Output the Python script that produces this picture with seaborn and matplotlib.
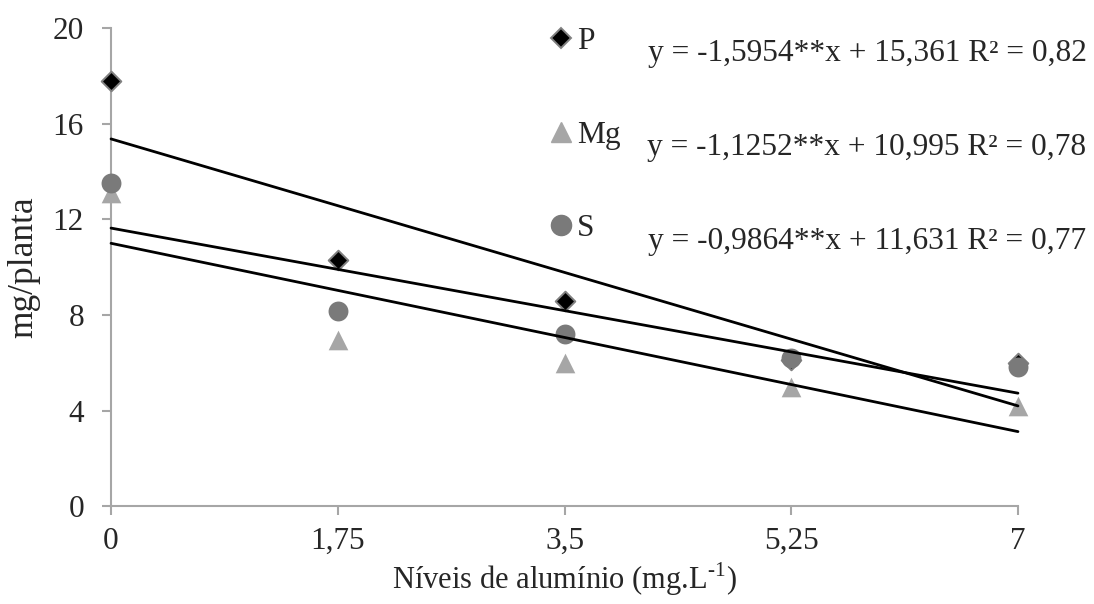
import numpy as np
import pandas as pd
import matplotlib
matplotlib.use("Agg")
import matplotlib.pyplot as plt
import seaborn as sns
from matplotlib.lines import Line2D

# ---- data ----
levels = [0, 1.75, 3.5, 5.25, 7]
tick_labels = ["0", "1,75", "3,5", "5,25", "7"]
p_vals = [17.8, 10.3, 8.6, 6.1, 6.0]
mg_vals = [13.1, 6.95, 6.0, 5.0, 4.2]
s_vals = [13.5, 8.15, 7.2, 6.2, 5.8]
series = ["P", "Mg", "S"]
slopes = [-1.5954, -1.1252, -0.9864]
intercepts = [15.361, 10.995, 11.631]
equations = ["y = -1,5954**x + 15,361 R² = 0,82",
             "y = -1,1252**x + 10,995 R² = 0,78",
             "y = -0,9864**x + 11,631 R² = 0,77"]

sns.set_style("white")
plt.rcParams['font.family'] = ['Liberation Serif', 'DejaVu Serif']
plt.rcParams['mathtext.fontset'] = 'custom'
plt.rcParams['mathtext.rm'] = 'Liberation Serif'

fig = plt.figure(figsize=(10.94, 6.04), dpi=100)
ax = fig.add_axes([0.1015, 0.162, 0.829, 0.7916])

styles = {
    "P": dict(marker="D", color="black", edgecolor="#808080", s=100, linewidth=1.4),
    "Mg": dict(marker="^", color="#a6a6a6", edgecolor="#a6a6a6", s=200, linewidth=0),
    "S": dict(marker="o", color="#7a7a7a", edgecolor="#7a7a7a", s=205, linewidth=0),
}
vals = {"P": p_vals, "Mg": mg_vals, "S": s_vals}
for name in series:
    df = pd.DataFrame({"x": levels, "y": vals[name]})
    sns.scatterplot(data=df, x="x", y="y", ax=ax, zorder=3, **styles[name])

xl = np.array([levels[0], levels[-1]])
for m, b in zip(slopes, intercepts):
    ldf = pd.DataFrame({"x": xl, "y": m * xl + b})
    sns.lineplot(data=ldf, x="x", y="y", ax=ax, color="black", linewidth=2, zorder=4)

ax.set_xlim(0, 7)
ax.set_ylim(0, 20)
ax.set_xticks(levels)
ax.set_xticklabels(tick_labels)
ax.set_yticks([0, 4, 8, 12, 16, 20])
ax.set_yticklabels(["0", "4", "8", "12", "16", "20"])
for sp in ["top", "right"]:
    ax.spines[sp].set_visible(False)
for sp in ["left", "bottom"]:
    ax.spines[sp].set_color("#a6a6a6")
    ax.spines[sp].set_linewidth(1.5)
ax.tick_params(axis="both", which="major", length=6.5, width=1.5, color="#a6a6a6",
               labelsize=22.5, direction="out", left=True, bottom=True)
ax.tick_params(axis="y", pad=13)
ax.tick_params(axis="x", pad=8.5)
ax.set_xlabel("Níveis de alumínio (mg.L$^{\\mathrm{\u2010}1}$)", fontsize=22, labelpad=3)
ax.set_ylabel("mg/planta", fontsize=25.5, labelpad=9)
for c in ax.collections:
    c.set_clip_on(False)
for l in ax.lines:
    l.set_clip_on(False)

handles = [
    Line2D([], [], marker="D", linestyle="", markerfacecolor="black", markeredgecolor="#808080",
           markeredgewidth=1.4, markersize=10.5),
    Line2D([], [], marker="^", linestyle="", markerfacecolor="#a6a6a6", markeredgecolor="#a6a6a6", markersize=14.5),
    Line2D([], [], marker="o", linestyle="", markerfacecolor="#7a7a7a", markeredgecolor="#7a7a7a", markersize=14.5),
]
leg = ax.legend(handles, series, loc="upper left", bbox_to_anchor=(0.462, 1.034),
                frameon=False, fontsize=22.6, labelspacing=2.05, handletextpad=0.0,
                handlelength=1.0, borderpad=0)

eq_y = [54, 147, 242]
for eq, yy in zip(equations, eq_y):
    fig.text(867 / 1094, 1 - yy / 604, eq, fontsize=22.6, ha="center", va="center")

fig.savefig("out.png", dpi=100)
